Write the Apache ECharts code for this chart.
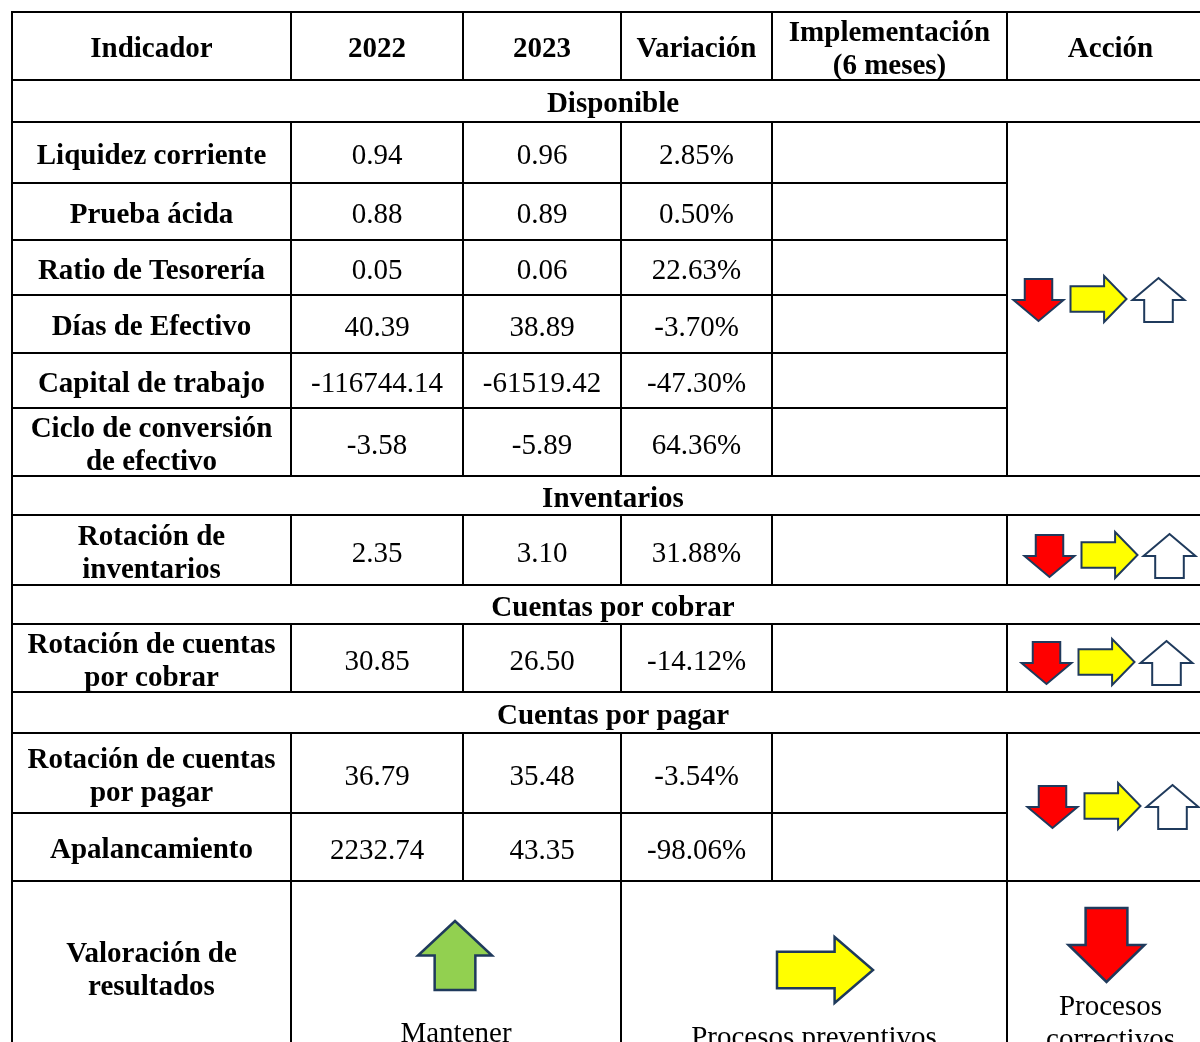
<!DOCTYPE html>
<html>
<head>
<meta charset="utf-8">
<title>Indicadores</title>
<script src="https://cdn.jsdelivr.net/npm/echarts@6/dist/echarts.min.js"></script>
<style>
  html, body { margin: 0; padding: 0; background: #fff; }
  #main { width: 1200px; height: 1042px; }
</style>
</head>
<body>
<div id="main"></div>
<script>
// ---- datos de la tabla ----
const headers = ['Indicador', '2022', '2023', 'Variación', 'Implementación\n(6 meses)', 'Acción']
const sections = ['Disponible', 'Inventarios', 'Cuentas por cobrar', 'Cuentas por pagar']
const indicators = [
  'Liquidez corriente', 'Prueba ácida', 'Ratio de Tesorería', 'Días de Efectivo',
  'Capital de trabajo', 'Ciclo de conversión\nde efectivo', 'Rotación de\ninventarios',
  'Rotación de cuentas\npor cobrar', 'Rotación de cuentas\npor pagar', 'Apalancamiento'
]
const sectionOf = [0, 0, 0, 0, 0, 0, 1, 2, 3, 3]
const values2022 = [0.94, 0.88, 0.05, 40.39, -116744.14, -3.58, 2.35, 30.85, 36.79, 2232.74]
const values2023 = [0.96, 0.89, 0.06, 38.89, -61519.42, -5.89, 3.10, 26.50, 35.48, 43.35]
const variation = [2.85, 0.50, 22.63, -3.70, -47.30, 64.36, 31.88, -14.12, -3.54, -98.06]
const actionArrows = ['down', 'right', 'up']
const valuationTitle = 'Valoración de\nresultados'
const valuationLabels = ['Mantener', 'Procesos preventivos', 'Procesos\ncorrectivos']
const valuationArrows = ['up', 'right', 'down']

// ---- maquetación (px) ----
const colX = [12, 291, 463, 621, 772, 1007, 1214]
const rowEdges = [12, 80, 122, 183, 240, 295, 353, 408, 476, 515, 585, 624, 692, 733, 813, 881, 1080]
const textDy = 4
const groupShift = [[-11, 0], [0, 5], [-3, 4], [3, -1]]
// flechas pequeñas dentro del grupo: [x, dy, w, h]
const groupParts = [[0, -20, 50, 42], [57, -23, 56, 46], [119, -21, 52, 44]]
// flechas grandes de la fila de valoración: [dx desde centro, top, w, h]
const bigParts = [[-1, 921, 74, 69], [11, 937, 96, 66], [-4, 908, 76, 74]]
const bottomCols = [[1, 3], [3, 5], [5, 6]]
const bottomTextY = [1030, 1034, 1020]

const FONT = '"Liberation Serif", "Times New Roman", serif'
const arrowFill = { down: '#FF0000', right: '#FFFF00', up: '#FFFFFF' }
const bigFill = { up: '#92D050', right: '#FFFF00', down: '#FF0000' }

// construir celdas
const cells = []
headers.forEach((h, i) => cells.push({ c0: i, c1: i + 1, r0: 0, r1: 1, text: h, bold: true }))
let r = 1
let prev = -1
const secRange = []
indicators.forEach((name, i) => {
  const s = sectionOf[i]
  if (s !== prev) {
    cells.push({ c0: 0, c1: 6, r0: r, r1: r + 1, text: sections[s], bold: true })
    r++
    secRange[s] = [r, r]
    prev = s
  }
  cells.push({ c0: 0, c1: 1, r0: r, r1: r + 1, text: name, bold: true })
  cells.push({ c0: 1, c1: 2, r0: r, r1: r + 1, text: values2022[i].toFixed(2) })
  cells.push({ c0: 2, c1: 3, r0: r, r1: r + 1, text: values2023[i].toFixed(2) })
  cells.push({ c0: 3, c1: 4, r0: r, r1: r + 1, text: variation[i].toFixed(2) + '%' })
  cells.push({ c0: 4, c1: 5, r0: r, r1: r + 1, text: '' })
  secRange[s][1] = r + 1
  r++
})
secRange.forEach((rg) => cells.push({ c0: 5, c1: 6, r0: rg[0], r1: rg[1], text: '' }))
cells.push({ c0: 0, c1: 1, r0: r, r1: r + 1, text: valuationTitle, bold: true, ty: 967 })
valuationLabels.forEach((t, i) => {
  cells.push({ c0: bottomCols[i][0], c1: bottomCols[i][1], r0: r, r1: r + 1, text: t, ty: bottomTextY[i] })
})

// flechas
const arrows = []
secRange.forEach((rg, s) => {
  const cx = (colX[5] + colX[6]) / 2 + groupShift[s][0]
  const cy = (rowEdges[rg[0]] + rowEdges[rg[1]]) / 2 + groupShift[s][1]
  const left = cx - 86
  actionArrows.forEach((k, j) => {
    const p = groupParts[j]
    arrows.push({ kind: k, fill: arrowFill[k], x: left + p[0], y: cy + p[1], w: p[2], h: p[3], lw: 2 })
  })
})
valuationArrows.forEach((k, i) => {
  const cx = (colX[bottomCols[i][0]] + colX[bottomCols[i][1]]) / 2 + bigParts[i][0]
  const p = bigParts[i]
  arrows.push({ kind: k, fill: bigFill[k], x: cx - p[2] / 2, y: p[1], w: p[2], h: p[3], lw: 2.5 })
})

function arrowPts(kind, x, y, w, h) {
  const s = 0.55
  if (kind === 'right') {
    const a = y + h * (1 - s) / 2, b = y + h * (1 + s) / 2, m = x + w * 0.6
    return [[x, a], [m, a], [m, y], [x + w, y + h / 2], [m, y + h], [m, b], [x, b]]
  }
  const a = x + w * (1 - s) / 2, b = x + w * (1 + s) / 2
  if (kind === 'down') {
    const m = y + h * 0.5
    return [[a, y], [b, y], [b, m], [x + w, m], [x + w / 2, y + h], [x, m], [a, m]]
  }
  const m = y + h * 0.5
  return [[x + w / 2, y], [x + w, m], [b, m], [b, y + h], [a, y + h], [a, m], [x, m]]
}

const chart = echarts.init(document.getElementById('main'))
chart.setOption({
  animation: false,
  backgroundColor: '#fff',
  grid: { left: 0, right: 0, top: 0, bottom: 0 },
  xAxis: { type: 'value', min: 0, max: 1200, show: false },
  yAxis: { type: 'value', min: 0, max: 1042, inverse: true, show: false },
  series: [
    {
      type: 'custom',
      name: 'celdas',
      clip: false,
      data: cells.map((c, i) => [i]),
      renderItem: function (params, api) {
        const c = cells[params.dataIndex]
        const p0 = api.coord([colX[c.c0], rowEdges[c.r0]])
        const p1 = api.coord([colX[c.c1], rowEdges[c.r1]])
        const ty = c.ty != null ? api.coord([0, c.ty])[1] : (p0[1] + p1[1]) / 2
        return {
          type: 'group',
          children: [
            {
              type: 'rect',
              shape: { x: p0[0], y: p0[1], width: p1[0] - p0[0], height: p1[1] - p0[1] },
              style: { fill: 'none', stroke: '#000', lineWidth: 2 }
            },
            {
              type: 'text',
              style: {
                text: c.text,
                x: (p0[0] + p1[0]) / 2,
                y: ty + textDy,
                align: 'center',
                verticalAlign: 'middle',
                fontSize: 29,
                lineHeight: 33,
                fontWeight: c.bold ? 'bold' : 'normal',
                fontFamily: FONT,
                fill: '#000'
              }
            }
          ]
        }
      }
    },
    {
      type: 'custom',
      name: 'flechas',
      clip: false,
      data: arrows.map((a, i) => [i]),
      renderItem: function (params, api) {
        const a = arrows[params.dataIndex]
        const pts = arrowPts(a.kind, a.x, a.y, a.w, a.h).map((p) => api.coord(p))
        return {
          type: 'polygon',
          shape: { points: pts },
          style: { fill: a.fill, stroke: '#1F3A5C', lineWidth: a.lw, lineJoin: 'miter' }
        }
      }
    }
  ]
})
</script>
</body>
</html>
